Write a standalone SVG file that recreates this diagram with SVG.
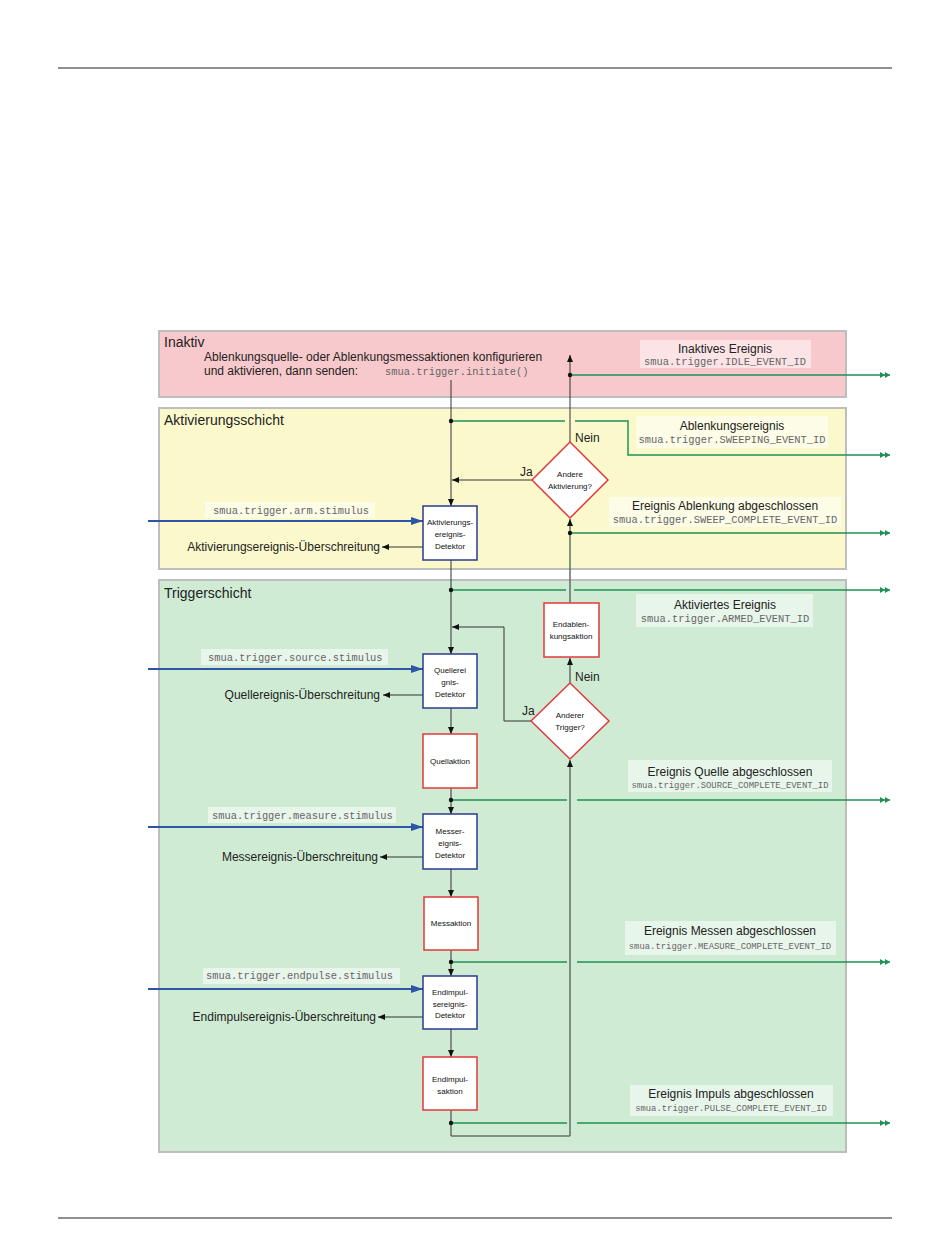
<svg xmlns="http://www.w3.org/2000/svg" width="950" height="1248" viewBox="0 0 950 1248">
<defs>
<style>
.layer{stroke:#bdbdbd;stroke-width:2}
.ltitle{font-family:"Liberation Sans",Arial,sans-serif;font-size:14px;fill:#222}
.t12{font-family:"Liberation Sans",Arial,sans-serif;font-size:12px;fill:#222}
.tm{font-family:"Liberation Mono","Courier New",monospace;font-size:10.4px;fill:#666}
.tms{font-family:"Liberation Mono","Courier New",monospace;font-size:8.9px;fill:#666}
.tn{font-family:"Liberation Sans",Arial,sans-serif;font-size:8px;fill:#111;text-anchor:middle}
.lbl{fill:#ffffff;fill-opacity:0.5}
.det{fill:#fff;stroke:#2b3a8f;stroke-width:1.5}
.act{fill:#fff;stroke:#e03a3a;stroke-width:1.5}
.dia{fill:#fff;stroke:#e03a3a;stroke-width:1.5}
.blk{fill:none;stroke:#333;stroke-width:1}
.gry{fill:none;stroke:#5f6f68;stroke-width:1.5}
.grn{fill:none;stroke:#1f9155;stroke-width:1.5}
.blu{fill:none;stroke:#2e55a4;stroke-width:2}
.dot{fill:#111}
</style>
<marker id="ab" markerWidth="7" markerHeight="6" refX="7" refY="3" orient="auto" markerUnits="userSpaceOnUse"><path d="M0,0 L7,3 L0,6 z" fill="#111"/></marker>
<marker id="abl" markerWidth="12" markerHeight="8" refX="12" refY="4" orient="auto" markerUnits="userSpaceOnUse"><path d="M0,0 L12,4 L0,8 z" fill="#2e55a4"/></marker>
<marker id="ag" markerWidth="10" markerHeight="6" refX="10" refY="3" orient="auto" markerUnits="userSpaceOnUse"><path d="M0,0 L5,3 L0,6 z M5,0 L10,3 L5,6 z" fill="#1f9155"/></marker>
</defs>
<rect width="950" height="1248" fill="#fff"/>
<line x1="58" y1="68" x2="892" y2="68" stroke="#222" stroke-width="1.2"/>
<line x1="58" y1="1218" x2="892" y2="1218" stroke="#222" stroke-width="1.2"/>

<g id="layer-inaktiv">
<rect class="layer" x="159" y="331" width="687" height="66" fill="#f8c9cc"/>
<text class="ltitle" x="164" y="347">Inaktiv</text>
<text class="t12" x="204" y="361">Ablenkungsquelle- oder Ablenkungsmessaktionen konfigurieren</text>
<text class="t12" x="204" y="375">und aktivieren, dann senden:</text>
<text class="tm" x="385" y="375">smua.trigger.initiate()</text>
</g>
<g id="layer-aktivierung">
<rect class="layer" x="159" y="408" width="687" height="161" fill="#fbf9cc"/>
<text class="ltitle" x="164" y="425">Aktivierungsschicht</text>
</g>
<g id="layer-trigger">
<rect class="layer" x="159" y="580" width="687" height="572" fill="#d0ebd4"/>
<text class="ltitle" x="164" y="598">Triggerschicht</text>
</g>

<g id="connectors">
<line class="blk" x1="451" y1="380" x2="451" y2="506" marker-end="url(#ab)"/>
<line class="blk" x1="532" y1="480" x2="452" y2="480" marker-end="url(#ab)"/>
<line class="blk" x1="570" y1="442" x2="570" y2="355" marker-end="url(#ab)"/>
<line class="gry" x1="570" y1="603" x2="570" y2="519" marker-end="url(#ab)"/>
<line class="blk" x1="451" y1="560" x2="451" y2="654" marker-end="url(#ab)"/>
<polyline class="blk" points="533,721 504,721 504,627 452,627" marker-end="url(#ab)"/>
<line class="gry" x1="570" y1="683" x2="570" y2="658" marker-end="url(#ab)"/>
<line class="blk" x1="451" y1="708" x2="451" y2="734" marker-end="url(#ab)"/>
<line class="blk" x1="451" y1="788" x2="451" y2="814" marker-end="url(#ab)"/>
<line class="blk" x1="451" y1="869" x2="451" y2="897" marker-end="url(#ab)"/>
<line class="blk" x1="451" y1="950" x2="451" y2="976" marker-end="url(#ab)"/>
<line class="blk" x1="451" y1="1029" x2="451" y2="1057" marker-end="url(#ab)"/>
<polyline class="blk" points="451,1110 451,1136 570,1136"/>
<line class="gry" x1="570" y1="1136" x2="570" y2="760" marker-end="url(#ab)"/>
<line class="blk" x1="423" y1="547" x2="382" y2="547" marker-end="url(#ab)"/>
<line class="blk" x1="423" y1="695" x2="383" y2="695" marker-end="url(#ab)"/>
<line class="blk" x1="423" y1="857" x2="380" y2="857" marker-end="url(#ab)"/>
<line class="blk" x1="423" y1="1017" x2="378" y2="1017" marker-end="url(#ab)"/>
<line class="blu" x1="148" y1="521" x2="423" y2="521" marker-end="url(#abl)"/>
<line class="blu" x1="148" y1="669" x2="423" y2="669" marker-end="url(#abl)"/>
<line class="blu" x1="148" y1="827" x2="423" y2="827" marker-end="url(#abl)"/>
<line class="blu" x1="148" y1="989" x2="423" y2="989" marker-end="url(#abl)"/>
<line class="grn" x1="570" y1="375" x2="890" y2="375" marker-end="url(#ag)"/>
<line class="grn" x1="451" y1="421" x2="565" y2="421"/>
<polyline class="grn" points="575,421 628,421 628,455 890,455" marker-end="url(#ag)"/>
<line class="grn" x1="570" y1="533" x2="890" y2="533" marker-end="url(#ag)"/>
<line class="grn" x1="451" y1="590" x2="566" y2="590"/>
<line class="grn" x1="574" y1="590" x2="890" y2="590" marker-end="url(#ag)"/>
<line class="grn" x1="451" y1="800" x2="567" y2="800"/>
<line class="grn" x1="577" y1="800" x2="890" y2="800" marker-end="url(#ag)"/>
<line class="grn" x1="451" y1="962" x2="567" y2="962"/>
<line class="grn" x1="577" y1="962" x2="890" y2="962" marker-end="url(#ag)"/>
<line class="grn" x1="451" y1="1123" x2="567" y2="1123"/>
<line class="grn" x1="577" y1="1123" x2="890" y2="1123" marker-end="url(#ag)"/>
<circle class="dot" cx="451" cy="421" r="2.2"/>
<circle class="dot" cx="570" cy="375" r="2.2"/>
<circle class="dot" cx="570" cy="533" r="2.2"/>
<circle class="dot" cx="451" cy="590" r="2.2"/>
<circle class="dot" cx="451" cy="800" r="2.2"/>
<circle class="dot" cx="451" cy="962" r="2.2"/>
<circle class="dot" cx="451" cy="1123" r="2.2"/>
<text class="t12" x="575" y="442">Nein</text>
<text class="t12" x="520" y="476">Ja</text>
<text class="t12" x="575" y="681">Nein</text>
<text class="t12" x="522" y="715">Ja</text>
</g>

<g id="stim-arm">
<rect class="lbl" x="205" y="502" width="170" height="16"/>
<text class="tm" x="213" y="514">smua.trigger.arm.stimulus</text>
</g>
<g id="stim-source">
<rect class="lbl" x="201" y="649" width="187" height="16"/>
<text class="tm" x="208" y="661">smua.trigger.source.stimulus</text>
</g>
<g id="stim-measure">
<rect class="lbl" x="208" y="807" width="188" height="16"/>
<text class="tm" x="212" y="819">smua.trigger.measure.stimulus</text>
</g>
<g id="stim-endpulse">
<rect class="lbl" x="203" y="968" width="197" height="16"/>
<text class="tm" x="206" y="979">smua.trigger.endpulse.stimulus</text>
</g>

<g id="over-arm"><text class="t12" x="380" y="551" text-anchor="end">Aktivierungsereignis-Überschreitung</text></g>
<g id="over-source"><text class="t12" x="380" y="699" text-anchor="end">Quellereignis-Überschreitung</text></g>
<g id="over-measure"><text class="t12" x="378" y="861" text-anchor="end">Messereignis-Überschreitung</text></g>
<g id="over-endpulse"><text class="t12" x="376" y="1021" text-anchor="end">Endimpulsereignis-Überschreitung</text></g>

<g id="ev-idle">
<rect class="lbl" x="640" y="340" width="171" height="28"/>
<text class="t12" x="725" y="353" text-anchor="middle">Inaktives Ereignis</text>
<text class="tm" x="725" y="365" text-anchor="middle">smua.trigger.IDLE_EVENT_ID</text>
</g>
<g id="ev-sweeping">
<rect class="lbl" x="636" y="416" width="192" height="32"/>
<text class="t12" x="732" y="430" text-anchor="middle">Ablenkungsereignis</text>
<text class="tm" x="732" y="443" text-anchor="middle">smua.trigger.SWEEPING_EVENT_ID</text>
</g>
<g id="ev-sweepcomplete">
<rect class="lbl" x="609" y="497" width="232" height="30"/>
<text class="t12" x="725" y="510" text-anchor="middle">Ereignis Ablenkung abgeschlossen</text>
<text class="tm" x="725" y="523" text-anchor="middle">smua.trigger.SWEEP_COMPLETE_EVENT_ID</text>
</g>
<g id="ev-armed">
<rect class="lbl" x="636" y="594" width="177" height="33"/>
<text class="t12" x="725" y="609" text-anchor="middle">Aktiviertes Ereignis</text>
<text class="tm" x="725" y="622" text-anchor="middle">smua.trigger.ARMED_EVENT_ID</text>
</g>
<g id="ev-source">
<rect class="lbl" x="628" y="760" width="204" height="32"/>
<text class="t12" x="730" y="776" text-anchor="middle">Ereignis Quelle abgeschlossen</text>
<text class="tms" x="730" y="788" text-anchor="middle">smua.trigger.SOURCE_COMPLETE_EVENT_ID</text>
</g>
<g id="ev-measure">
<rect class="lbl" x="625" y="921" width="211" height="34"/>
<text class="t12" x="730" y="935" text-anchor="middle">Ereignis Messen abgeschlossen</text>
<text class="tms" x="730" y="949" text-anchor="middle">smua.trigger.MEASURE_COMPLETE_EVENT_ID</text>
</g>
<g id="ev-pulse">
<rect class="lbl" x="630" y="1085" width="203" height="31"/>
<text class="t12" x="731" y="1098" text-anchor="middle">Ereignis Impuls abgeschlossen</text>
<text class="tms" x="731" y="1111" text-anchor="middle">smua.trigger.PULSE_COMPLETE_EVENT_ID</text>
</g>

<g id="det-arm">
<rect class="det" x="423" y="506" width="54" height="54"/>
<text class="tn" x="450" y="525">Aktivierungs-</text>
<text class="tn" x="450" y="537">ereignis-</text>
<text class="tn" x="450" y="549">Detektor</text>
</g>
<g id="dia-arm">
<polygon class="dia" points="570,442 608,480 570,518 532,480"/>
<text class="tn" x="570" y="477">Andere</text>
<text class="tn" x="570" y="489">Aktivierung?</text>
</g>
<g id="act-endsweep">
<rect class="act" x="544" y="603" width="55" height="54"/>
<text class="tn" x="571" y="627">Endablen-</text>
<text class="tn" x="571" y="639">kungsaktion</text>
</g>
<g id="dia-trigger">
<polygon class="dia" points="570,683 609,721 570,759 531,721"/>
<text class="tn" x="570" y="718">Anderer</text>
<text class="tn" x="570" y="730">Trigger?</text>
</g>
<g id="det-source">
<rect class="det" x="423" y="654" width="54" height="54"/>
<text class="tn" x="450" y="673">Quellerei</text>
<text class="tn" x="450" y="685">gnis-</text>
<text class="tn" x="450" y="697">Detektor</text>
</g>
<g id="act-source">
<rect class="act" x="423" y="734" width="54" height="54"/>
<text class="tn" x="450" y="764">Quellaktion</text>
</g>
<g id="det-measure">
<rect class="det" x="423" y="814" width="54" height="55"/>
<text class="tn" x="450" y="834">Messer-</text>
<text class="tn" x="450" y="846">eignis-</text>
<text class="tn" x="450" y="858">Detektor</text>
</g>
<g id="act-measure">
<rect class="act" x="424" y="897" width="54" height="53"/>
<text class="tn" x="451" y="926">Messaktion</text>
</g>
<g id="det-endpulse">
<rect class="det" x="423" y="976" width="54" height="53"/>
<text class="tn" x="450" y="995">Endimpul-</text>
<text class="tn" x="450" y="1007">sereignis-</text>
<text class="tn" x="450" y="1018">Detektor</text>
</g>
<g id="act-endpulse">
<rect class="act" x="423" y="1057" width="54" height="53"/>
<text class="tn" x="450" y="1082">Endimpul-</text>
<text class="tn" x="450" y="1094">saktion</text>
</g>
</svg>
